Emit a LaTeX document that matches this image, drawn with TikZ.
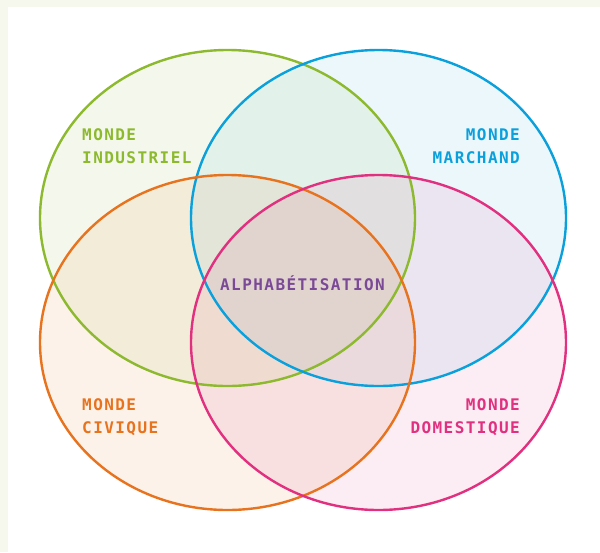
\documentclass[tikz,border=0pt]{standalone}
\usepackage{fontspec}
\usepackage{xcolor}
\usepackage{tikz}
\usetikzlibrary{positioning}

\newfontfamily\vennfont[LetterSpace=9]{DejaVu Sans Mono}

\definecolor{indusgreen}{HTML}{8DB92E}
\definecolor{marchblue}{HTML}{0AA0DC}
\definecolor{civorange}{HTML}{E8731E}
\definecolor{dompink}{HTML}{E0307F}
\definecolor{alphapurple}{HTML}{7B4A96}
\definecolor{framebg}{HTML}{F6F8EE}

\begin{document}
\begin{tikzpicture}[
  x=1pt, y=-1pt,
  world/.style={line width=2.4pt},
  tint/.style={fill=#1, fill opacity=0.09, draw=none},
  lbl/.style={font=\vennfont\bfseries\fontsize{16}{23}\selectfont, inner sep=0pt}
]
% frame
\fill[framebg] (0,0) rectangle (600,552);
\fill[white] (8,7) rectangle (600,552);
\useasboundingbox (0,0) rectangle (600,552);

% fills first
\fill[tint=indusgreen] (227.5,218) ellipse [x radius=187.5, y radius=168];
\fill[tint=marchblue, fill opacity=0.075] (378.5,218) ellipse [x radius=187.5, y radius=168];
\fill[tint=civorange]  (227.5,342.5) ellipse [x radius=187.5, y radius=167.5];
\fill[tint=dompink]    (378.5,342.5) ellipse [x radius=187.5, y radius=167.5];

% outlines
\draw[world, indusgreen] (227.5,218) ellipse [x radius=187.5, y radius=168];
\draw[world, marchblue]  (378.5,218) ellipse [x radius=187.5, y radius=168];
\draw[world, civorange]  (227.5,342.5) ellipse [x radius=187.5, y radius=167.5];
\draw[world, dompink]    (378.5,342.5) ellipse [x radius=187.5, y radius=167.5];

% labels
\node[lbl, text=indusgreen, anchor=west, align=left] (industriel) at (82,146.5) {MONDE\\INDUSTRIEL};
\node[lbl, text=marchblue, anchor=east, align=right] (marchand) at (520,146.5) {MONDE\\MARCHAND};
\node[lbl, text=civorange, anchor=west, align=left] (civique) at (82,417) {MONDE\\CIVIQUE};
\node[lbl, text=dompink, anchor=east, align=right] (domestique) at (520,417) {MONDE\\DOMESTIQUE};
\node[lbl, text=alphapurple] (alpha) at (302.5,283.5) {ALPHABÉTISATION};
\end{tikzpicture}
\end{document}
